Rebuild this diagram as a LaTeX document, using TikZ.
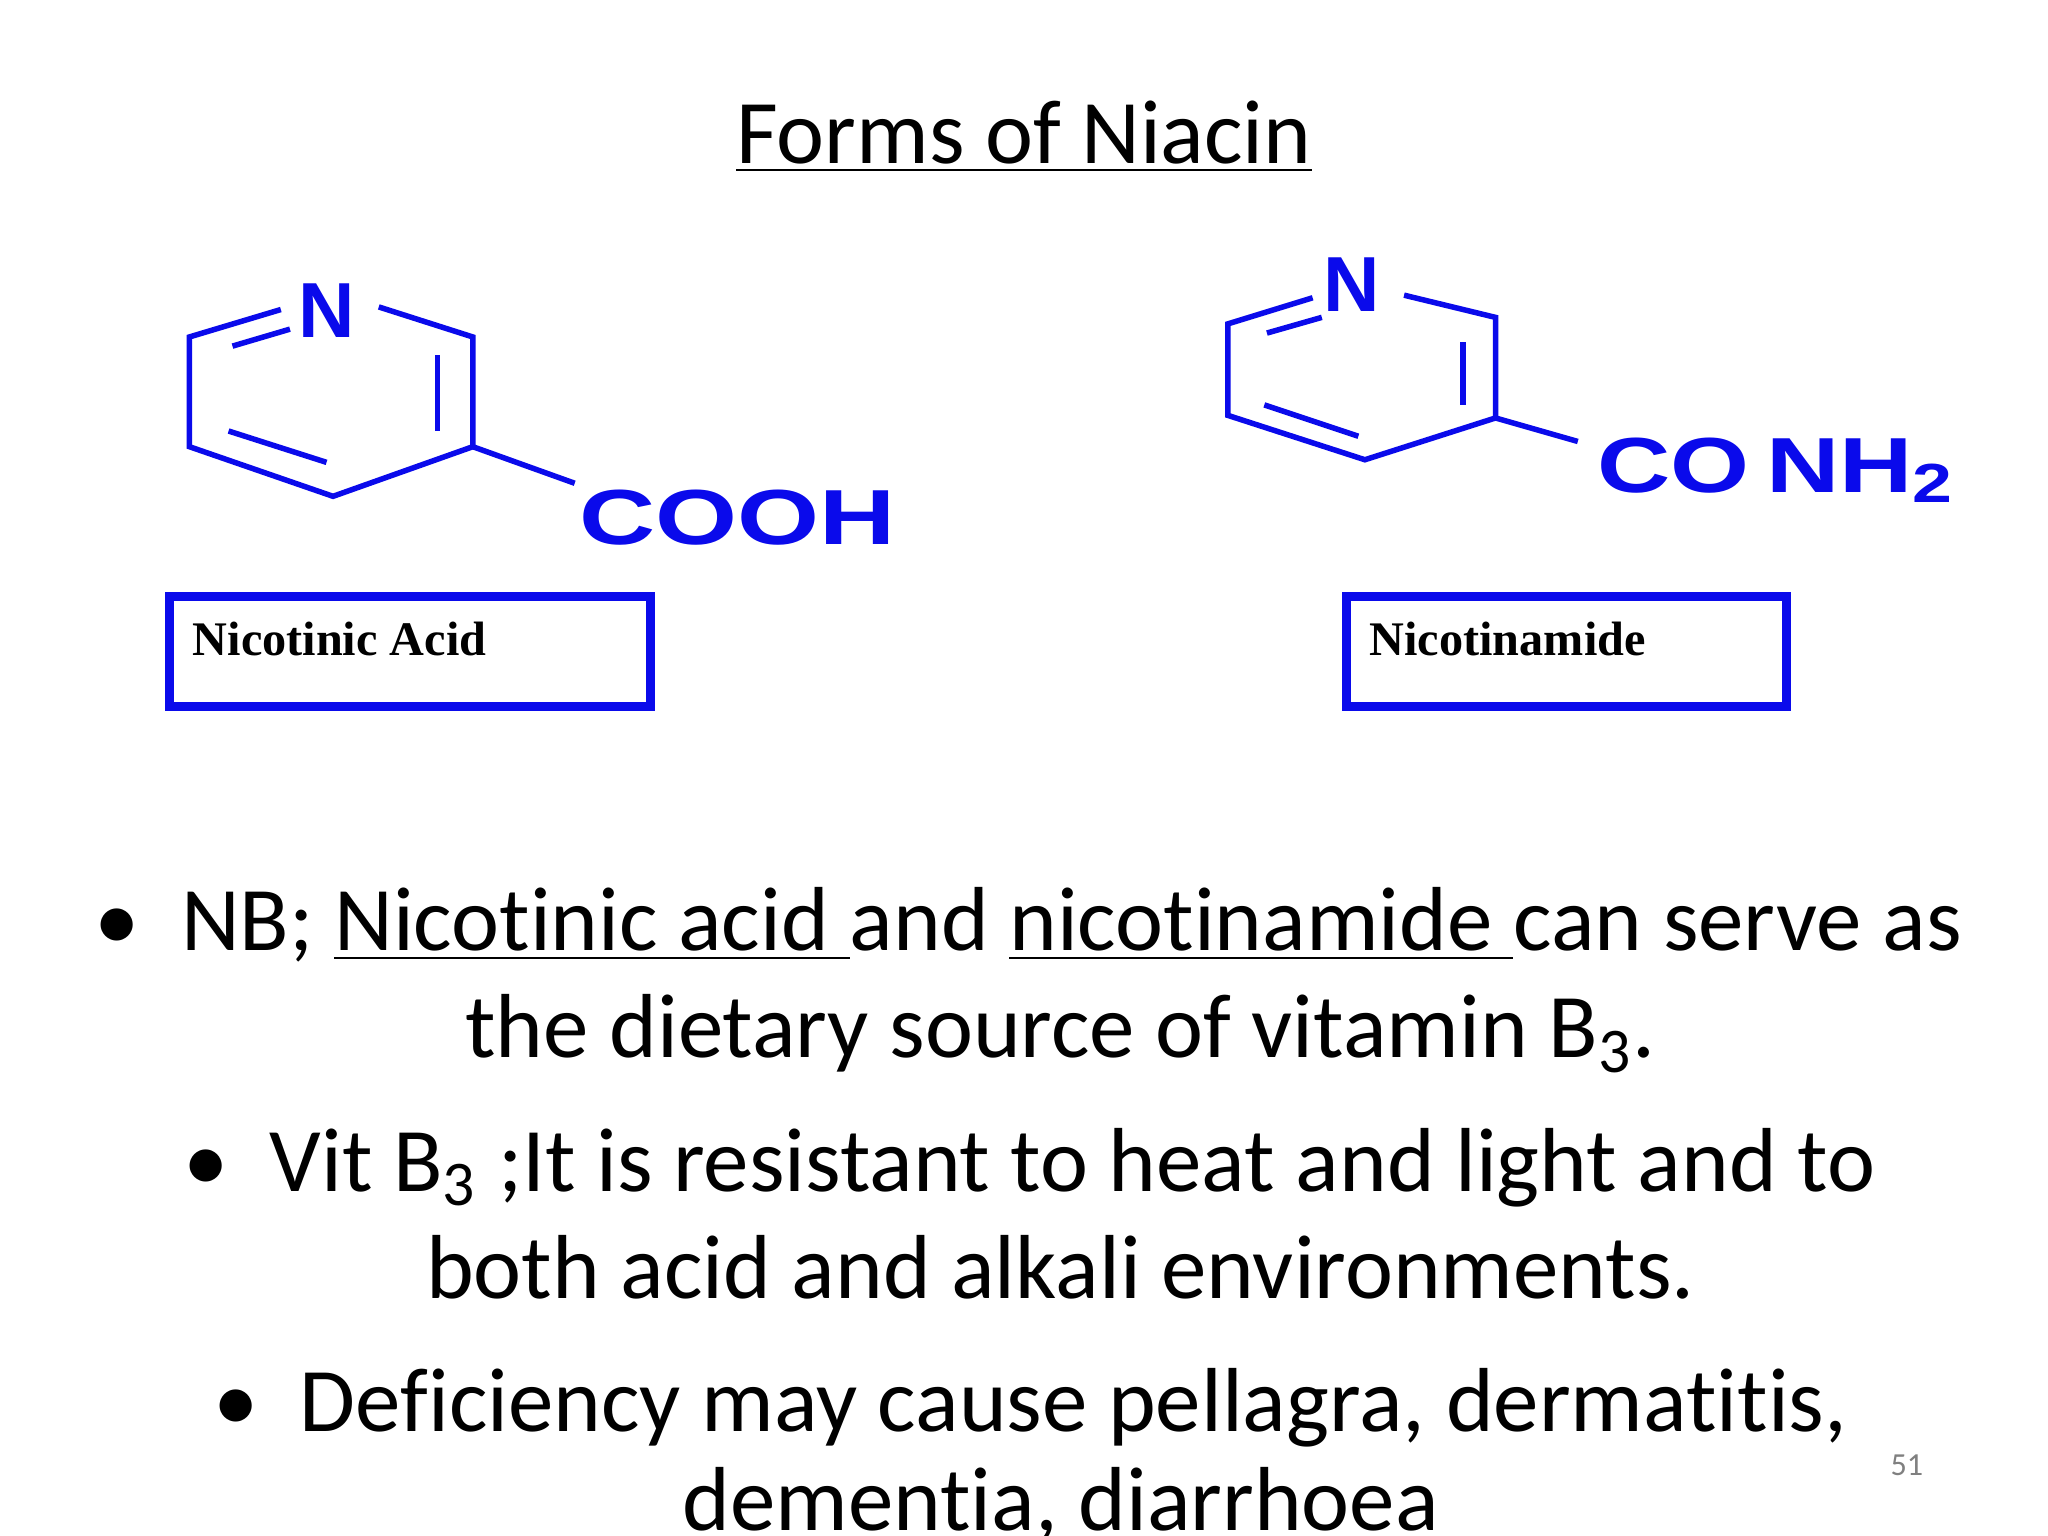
\documentclass[tikz,border=0pt]{standalone}
\usepackage{fontspec}
\setmainfont[RawFeature=-liga]{Carlito}
\newfontfamily\tms{Liberation Serif}
\newfontfamily\chem{Liberation Sans}
\definecolor{cb}{RGB}{10,10,235}
\begin{document}
\begin{tikzpicture}[x=0.01cm,y=-0.01cm,
 bond/.style={cb,line width=1.2pt},
 chemtxt/.style={cb,font=\chem\bfseries\fontsize{17}{17}\selectfont,inner sep=0pt},
 body/.style={font=\fontsize{19.8}{22}\selectfont,inner sep=0pt,anchor=base}]
\useasboundingbox[fill=white] (0,0) rectangle (1568,1176);
\node[font=\fontsize{19.8}{22}\selectfont,anchor=base] (title) at (784,125) {\underline{Forms of Niacin}};
% ring 1
\coordinate (a1) at (145,258); \coordinate (a2) at (215,237);
\coordinate (a3) at (290,235); \coordinate (a4) at (362,258);
\coordinate (a5) at (362,342); \coordinate (a6) at (255,380);
\coordinate (a7) at (145,342); \coordinate (a8) at (440,370);
\node[chemtxt] (n1) at (250,238) {N};
\draw[bond] (a2)--(a1)--(a7)--(a6)--(a5)--(a4)--(a3);
\draw[bond] (178,265)--(222,252);
\draw[bond] (335,272)--(335,330);
\draw[bond] (175,330)--(250,354);
\draw[bond] (a5)--(a8);
\node[chemtxt,anchor=west] (c1) at (443,396) {\scalebox{1.35}[1]{COOH}};
% ring 2
\coordinate (b1) at (940,248); \coordinate (b2) at (1005,228);
\coordinate (b3) at (1075,226); \coordinate (b4) at (1145,243);
\coordinate (b5) at (1145,320); \coordinate (b6) at (1045,352);
\coordinate (b7) at (940,318); \coordinate (b8) at (1208,338);
\node[chemtxt] (n2) at (1035,218) {N};
\draw[bond] (b2)--(b1)--(b7)--(b6)--(b5)--(b4)--(b3);
\draw[bond] (970,255)--(1012,243);
\draw[bond] (1120,262)--(1120,310);
\draw[bond] (968,310)--(1040,334);
\draw[bond] (b5)--(b8);
\node[chemtxt,anchor=west] (c2) at (1222,360) {\scalebox{1.3}[1]{CO\,NH}\raisebox{-2pt}{\scalebox{1.3}[1]{\fontsize{12}{12}\selectfont 2}}};
% boxes
\draw[cb,line width=2pt] (130,457) rectangle (498,541);
\draw[cb,line width=2pt] (1031,457) rectangle (1368,541);
\node[font=\tms\bfseries\fontsize{10.5}{12}\selectfont,anchor=base west,inner sep=0pt] (t1) at (147,502) {Nicotinic Acid};
\node[font=\tms\bfseries\fontsize{10.5}{12}\selectfont,anchor=base west,inner sep=0pt] (t2) at (1048,502) {Nicotinamide};
% body
\node[body,anchor=base west] (l1) at (72,728) {•\hspace{0.45em}NB; \underline{Nicotinic acid\ }and \underline{nicotinamide\ }can serve as};
\node[body] (l2) at (812,810) {the dietary source of vitamin B\textsubscript{3}.};
\node[body,anchor=base west] (l3) at (140,912) {•\hspace{0.45em}Vit B\textsubscript{3} ;It is resistant to heat and light and to};
\node[body] (l4) at (812,994) {both acid and alkali environments.};
\node[body,anchor=base west] (l5) at (163,1096) {•\hspace{0.45em}Deficiency may cause pellagra, dermatitis,};
\node[body] (l6) at (812,1172) {dementia, diarrhoea};
\node[gray,font=\fontsize{7}{8}\selectfont] (pg) at (1460,1122) {51};
\end{tikzpicture}
\end{document}
